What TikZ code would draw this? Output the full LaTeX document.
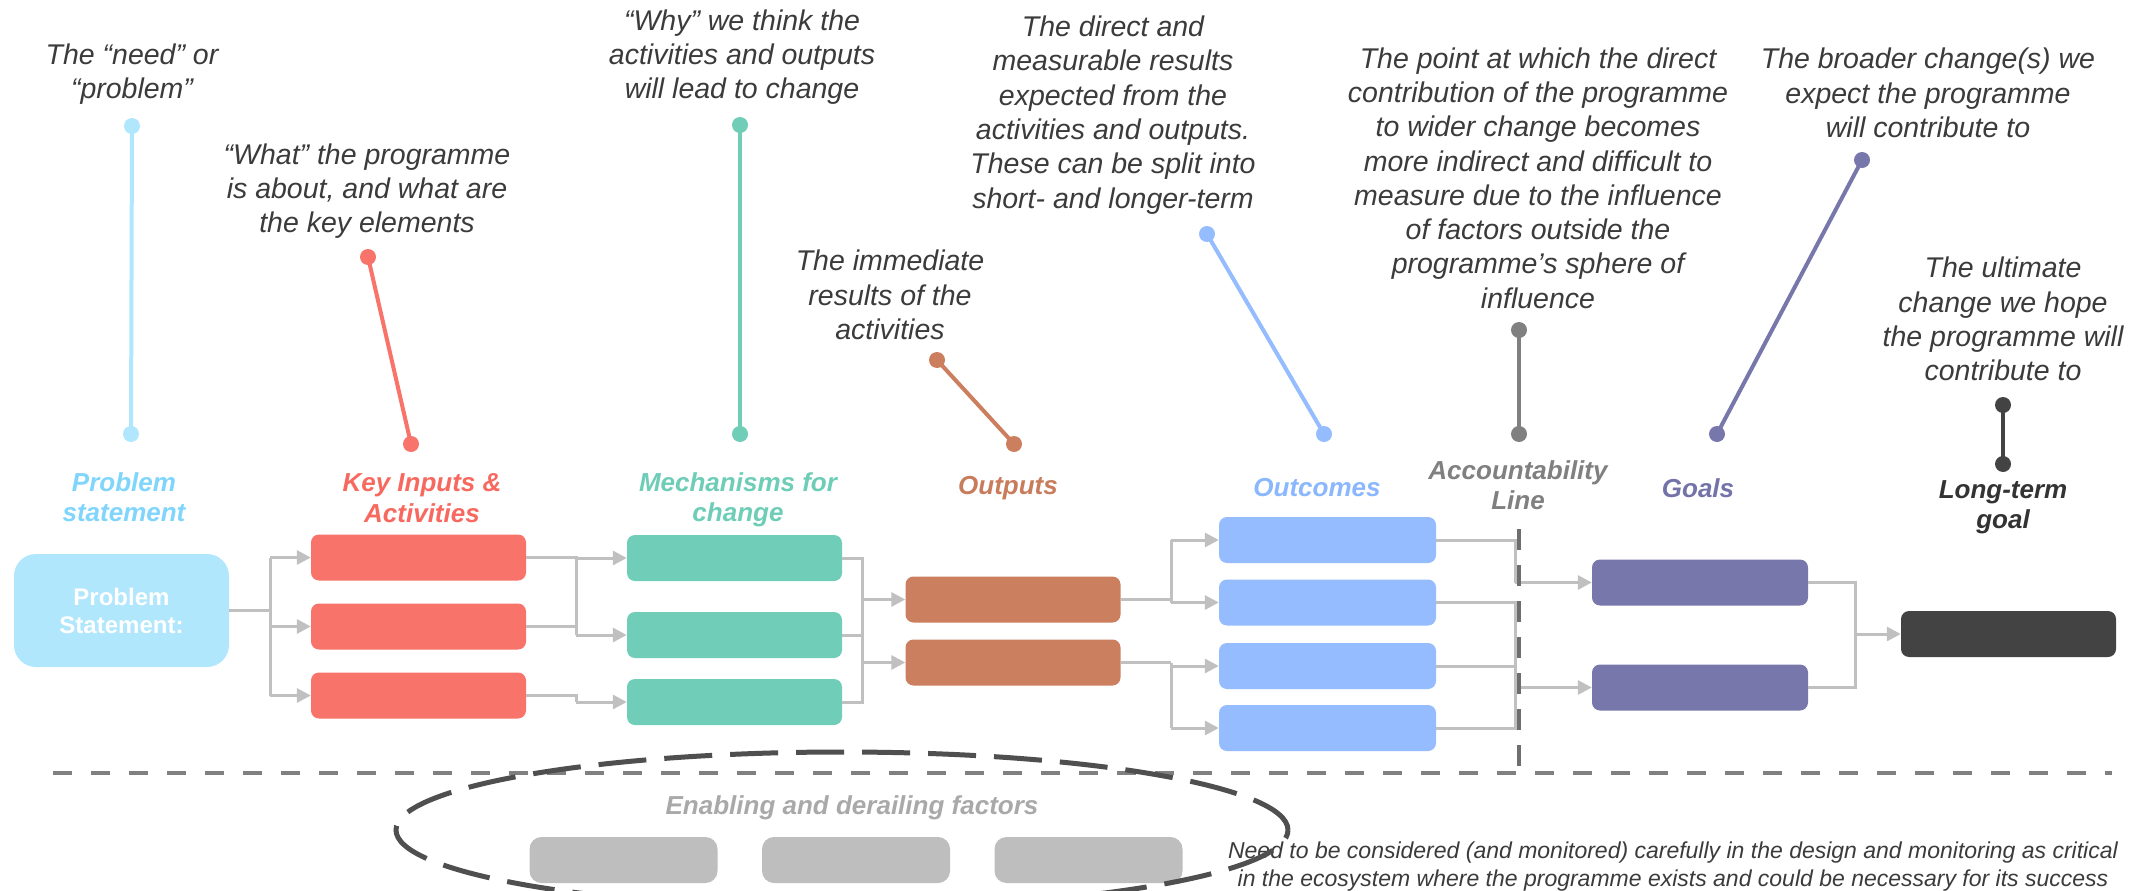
\documentclass[tikz,border=0pt]{standalone}
\usepackage{fontspec}
\setmainfont{Liberation Sans}
\usetikzlibrary{arrows.meta,calc}
\definecolor{psC}{HTML}{B0E7FD}
\definecolor{psH}{HTML}{7FD5FC}
\definecolor{redC}{HTML}{F87369}
\definecolor{redH}{HTML}{F7695F}
\definecolor{grnC}{HTML}{6FCDB8}
\definecolor{grnH}{HTML}{6ECDB7}
\definecolor{outC}{HTML}{CB7F5F}
\definecolor{outH}{HTML}{C97C5C}
\definecolor{ocC}{HTML}{94BCFE}
\definecolor{ocH}{HTML}{8AB7FD}
\definecolor{glC}{HTML}{7777AC}
\definecolor{glH}{HTML}{7373A9}
\definecolor{ltC}{HTML}{434343}
\definecolor{ltH}{HTML}{333333}
\definecolor{accC}{HTML}{808080}
\definecolor{acdC}{HTML}{6E6E6E}
\definecolor{gryC}{HTML}{BEBEBE}
\definecolor{connC}{HTML}{C0C0C0}
\definecolor{descC}{HTML}{3B3B3B}
\definecolor{ellC}{HTML}{4F4F4F}
\definecolor{enC}{HTML}{A9A9A9}
\tikzset{
  box/.style={rounded corners=8pt, minimum width=215pt, minimum height=46pt, inner sep=0pt},
  gbox/.style={fill=gryC, rounded corners=12pt, minimum width=188pt, minimum height=46pt, inner sep=0pt},
  conn/.style={draw=connC, line width=3pt},
  arr/.style={conn, -{Triangle[length=14pt,width=14pt]}},
  desc/.style={align=center, text=descC, font=\itshape\fontsize{28.5}{34.3}\selectfont, inner sep=0pt},
  head/.style={align=center, font=\bfseries\itshape\fontsize{26}{30.5}\selectfont, inner sep=0pt},
  pinline/.style={line width=4pt},
}
\newcommand{\pinpair}[3]{%
  \draw[pinline, draw=#1] (#2) -- (#3);
  \fill[#1] (#2) circle (8pt) (#3) circle (8pt);}
\begin{document}
\begin{tikzpicture}[x=1pt,y=-1pt]
\useasboundingbox (0,0) rectangle (2156,891);
\clip (0,0) rectangle (2156,891);
\fill[white] (0,0) rectangle (2156,891);

% ---------- descriptions ----------
\node[desc] (d1) at (132,74) {The “need” or\\“problem”};
\node[desc] (d2) at (367,191) {“What” the programme\\is about, and what are\\the key elements};
\node[desc] (d3) at (742,57) {“Why” we think the\\activities and outputs\\will lead to change};
\node[desc] (d4) at (1113,115) {The direct and\\measurable results\\expected from the\\activities and outputs.\\These can be split into\\short- and longer-term};
\node[desc] (d5) at (890,295) {The immediate\\results of the\\activities};
\node[desc] (d6) at (1538,178) {The point at which the direct\\contribution of the programme\\to wider change becomes\\more indirect and difficult to\\measure due to the influence\\of factors outside the\\programme’s sphere of\\influence};
\node[desc] (d7) at (1928,93) {The broader change(s) we\\expect the programme\\will contribute to};
\node[desc] (d8) at (2003,319) {The ultimate\\change we hope\\the programme will\\contribute to};

% ---------- pins ----------
\coordinate (pa1) at (132,126);  \coordinate (pa2) at (131,434);
\coordinate (pb1) at (368,257);  \coordinate (pb2) at (411,444);
\coordinate (pc1) at (740,125);  \coordinate (pc2) at (740,434);
\coordinate (pd1) at (937,360);  \coordinate (pd2) at (1014,444);
\coordinate (pe1) at (1207,234); \coordinate (pe2) at (1324,434);
\coordinate (pf1) at (1519,330); \coordinate (pf2) at (1519,434);
\coordinate (pg1) at (1862,160); \coordinate (pg2) at (1717,434);
\coordinate (ph1) at (2003,405); \coordinate (ph2) at (2003,464);
\pinpair{psC}{pa1}{pa2}
\pinpair{redC}{pb1}{pb2}
\pinpair{grnC}{pc1}{pc2}
\pinpair{outC}{pd1}{pd2}
\pinpair{ocC}{pe1}{pe2}
\pinpair{accC}{pf1}{pf2}
\pinpair{glC}{pg1}{pg2}
\pinpair{ltC}{ph1}{ph2}

% ---------- headings ----------
\node[head, text=psH] (hps) at (124,497) {Problem\\statement};
\node[head, text=redH] (hki) at (422,498) {Key Inputs \&\\Activities};
\node[head, text=grnH] (hmc) at (738,500) {Mechanisms for\\change};
\node[head, text=outH] (hop) at (1008,488) {Outputs};
\node[head, text=ocH] (hoc) at (1317,488) {Outcomes};
\node[head, text=accC] (hal) at (1518,485) {Accountability\\Line};
\node[head, text=glH] (hgl) at (1698,488) {Goals};
\node[head, text=ltH] (hlt) at (2003,507) {Long-term\\goal};

% ---------- boxes ----------
\node[fill=psC, rounded corners=22pt, minimum width=215pt, minimum height=113pt, inner sep=0pt,
      text=white, align=center, font=\bfseries\fontsize{24}{28}\selectfont] (ps) at (121.5,610.5) {Problem\\Statement:};
\node[box, fill=redC] (r1) at (418.5,557.5) {};
\node[box, fill=redC] (r2) at (418.5,626.5) {};
\node[box, fill=redC] (r3) at (418.5,695.5) {};
\node[box, fill=grnC] (g1) at (734.5,558) {};
\node[box, fill=grnC] (g2) at (734.5,635) {};
\node[box, fill=grnC] (g3) at (734.5,702) {};
\node[box, fill=outC] (o1) at (1013,599.5) {};
\node[box, fill=outC] (o2) at (1013,662.5) {};
\node[box, fill=ocC, minimum width=217pt] (oc1) at (1327.5,540) {};
\node[box, fill=ocC, minimum width=217pt] (oc2) at (1327.5,602.5) {};
\node[box, fill=ocC, minimum width=217pt] (oc3) at (1327.5,666) {};
\node[box, fill=ocC, minimum width=217pt] (oc4) at (1327.5,728) {};
\node[box, fill=glC, minimum width=216pt] (gl1) at (1700,582.5) {};
\node[box, fill=glC, minimum width=216pt] (gl2) at (1700,687.5) {};
\node[box, fill=ltC] (lt) at (2008.5,634) {};

% ---------- connectors ----------
\coordinate (jA) at (270,610.5);
\draw[conn] (ps.east) -- (jA);
\draw[conn] (jA |- r1.west) -- (jA |- r3.west);
\foreach \n in {r1,r2,r3} \draw[arr] (jA |- \n.west) -- (\n.west);

\coordinate (jB) at (576,600);
\draw[conn] (r1.east) -- (jB |- r1.east) -- (jB |- g2.west);
\draw[arr] (jB |- g1.west) -- (g1.west);
\draw[conn] (r2.east) -- (jB |- r2.east);
\draw[arr] (jB |- g2.west) -- (g2.west);
\draw[conn] (r3.east) -- (jB |- r3.east) -- (jB |- g3.west);
\draw[arr] (jB |- g3.west) -- (g3.west);

\coordinate (jC) at (862,600);
\draw[conn] (g1.east) -- (jC |- g1.east) -- (jC |- g3.east) -- (g3.east);
\draw[conn] (g2.east) -- (jC |- g2.east);
\draw[arr] (jC |- o1.west) -- (o1.west);
\draw[arr] (jC |- o2.west) -- (o2.west);

\coordinate (jD) at (1171,600);
\draw[conn] (o1.east) -- (jD |- o1.east);
\draw[conn] (jD |- oc1.west) -- (jD |- oc2.west);
\draw[arr] (jD |- oc1.west) -- (oc1.west);
\draw[arr] (jD |- oc2.west) -- (oc2.west);
\draw[conn] (o2.east) -- (jD |- o2.east);
\draw[conn] (jD |- o2.east) -- (jD |- oc4.west);
\draw[arr] (jD |- oc3.west) -- (oc3.west);
\draw[arr] (jD |- oc4.west) -- (oc4.west);

\coordinate (jE) at (1515,600);
\draw[conn] (oc1.east) -- (jE |- oc1.east) -- (jE |- gl1.west);
\draw[arr] (jE |- gl1.west) -- (gl1.west);
\draw[conn] (oc2.east) -- (jE |- oc2.east) -- (jE |- oc4.east) -- (oc4.east);
\draw[conn] (oc3.east) -- (jE |- oc3.east);
\draw[arr] (jE |- gl2.west) -- (gl2.west);

\coordinate (jF) at (1855,600);
\draw[conn] (gl1.east) -- (jF |- gl1.east) -- (jF |- gl2.east) -- (gl2.east);
\draw[arr] (jF |- lt.west) -- (lt.west);

% ---------- accountability line ----------
\coordinate (acT) at (1519,529);
\coordinate (acB) at (1519,770);
\draw[draw=acdC, line width=4.5pt, dash pattern=on 21pt off 15pt] (acT) -- (acB);

% ---------- horizontal divider ----------
\coordinate (hl1) at (53,773);
\coordinate (hl2) at (2112,773);
\draw[draw=accC, line width=4.5pt, dash pattern=on 19pt off 19pt] (hl1) -- (hl2);

% ---------- enabling factors ----------
\node[align=center, text=enC, font=\bfseries\itshape\fontsize{26}{30}\selectfont, inner sep=0pt] (ef) at (852,808) {Enabling and derailing factors};
\node[gbox] (f1) at (623.5,860) {};
\node[gbox] (f2) at (856,860) {};
\node[gbox] (f3) at (1088.5,860) {};
\node[align=center, text=descC, font=\itshape\fontsize{23}{28}\selectfont, inner sep=0pt] (note) at (1673,867)
  {Need to be considered (and monitored) carefully in the design and monitoring as critical\\in the ecosystem where the programme exists and could be necessary for its success};
\draw[draw=ellC, line width=5pt, dash pattern=on 48pt off 18pt] (842,830) ellipse [x radius=446pt, y radius=78pt];
\end{tikzpicture}
\end{document}
